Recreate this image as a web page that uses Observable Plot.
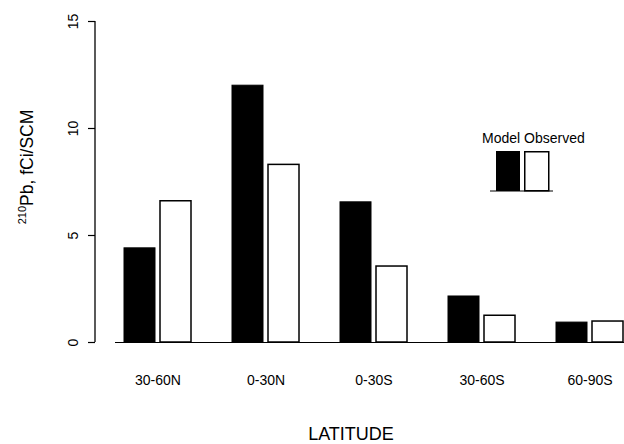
<!DOCTYPE html>
<html>
<head>
<meta charset="utf-8">
<script src="https://cdn.jsdelivr.net/npm/d3@7"></script>
<script src="https://cdn.jsdelivr.net/npm/@observablehq/plot@0.6"></script>
<style>
  html, body { margin: 0; padding: 0; background: #fff; }
  #wrap { position: relative; width: 624px; height: 444px; overflow: hidden; font-family: "Liberation Sans", Arial, Helvetica, sans-serif; }
  #overlay { position: absolute; left: 0; top: 0; pointer-events: none; }
</style>
</head>
<body>
<div id="wrap"></div>
<script>
const latitudes = ["30-60N", "0-30N", "0-30S", "30-60S", "60-90S"];
const modelValues = [4.4, 12.0, 6.55, 2.15, 0.93];
const observedValues = [6.6, 8.3, 3.55, 1.25, 0.98];
const yTicks = [0, 5, 10, 15];
const seriesNames = ["Model", "Observed"];
const xTitle = "LATITUDE";

const modelData = latitudes.map((lat, i) => ({lat, series: seriesNames[0], value: modelValues[i]}));
const observedData = latitudes.map((lat, i) => ({lat, series: seriesNames[1], value: observedValues[i]}));

const chart = Plot.plot({
  width: 624,
  height: 444,
  marginLeft: 95,
  marginRight: 0,
  marginTop: 21,
  marginBottom: 102,
  style: {fontFamily: "'Liberation Sans', Arial, Helvetica, sans-serif", background: "white", color: "black"},
  x: {domain: latitudes, paddingInner: 0.381, paddingOuter: 0.134, align: 0.966},
  y: {domain: [0, 15]},
  marks: [
    Plot.ruleY([0], {insetLeft: 20, stroke: "black", strokeWidth: 1}),
    Plot.barY(modelData, {x: "lat", y: "value", fill: "black", stroke: "black", strokeWidth: 1, insetRight: 36}),
    Plot.barY(observedData, {x: "lat", y: "value", fill: "white", stroke: "black", strokeWidth: 1.5, insetLeft: 36}),
    Plot.axisY(yTicks, {tickSize: 7, tickRotate: -90, tickPadding: 11, fontSize: 14, fill: "black", stroke: "black", strokeWidth: 1.2, label: null}),
    Plot.axisX({tickSize: 0, tickPadding: 33, fontSize: 14, fill: "black", label: null})
  ]
});

const wrap = document.getElementById("wrap");
wrap.appendChild(chart);

const y = chart.scale("y");
const ns = "http://www.w3.org/2000/svg";
const ov = document.createElementNS(ns, "svg");
ov.setAttribute("id", "overlay");
ov.setAttribute("width", 624);
ov.setAttribute("height", 444);
ov.style.fontFamily = "'Liberation Sans', Arial, Helvetica, sans-serif";

// y axis line, from the plot's own y scale
const al = document.createElementNS(ns, "line");
al.setAttribute("x1", 95); al.setAttribute("x2", 95);
al.setAttribute("y1", y.apply(yTicks[0])); al.setAttribute("y2", y.apply(yTicks[yTicks.length - 1]));
al.setAttribute("stroke", "black"); al.setAttribute("stroke-width", 1.3);
ov.appendChild(al);

// y title with superscript
const yt = document.createElementNS(ns, "text");
yt.setAttribute("transform", "translate(33,167) rotate(-90)");
yt.setAttribute("text-anchor", "middle");
yt.setAttribute("font-size", "17.5");
const sup = document.createElementNS(ns, "tspan");
sup.setAttribute("font-size", "11");
sup.setAttribute("dy", "-7");
sup.textContent = "210";
const main = document.createElementNS(ns, "tspan");
main.setAttribute("dy", "7");
main.textContent = "Pb, fCi/SCM";
yt.appendChild(sup); yt.appendChild(main);
ov.appendChild(yt);

// x title
const xt = document.createElementNS(ns, "text");
xt.setAttribute("x", 351);
xt.setAttribute("y", 440);
xt.setAttribute("text-anchor", "middle");
xt.setAttribute("font-size", "18");
xt.textContent = xTitle;
ov.appendChild(xt);

// legend
const lt = document.createElementNS(ns, "text");
lt.setAttribute("x", 482);
lt.setAttribute("y", 143);
lt.setAttribute("font-size", "14");
lt.textContent = seriesNames.join(" ");
ov.appendChild(lt);

function rect(x, yy, w, h, fill, sw) {
  const r = document.createElementNS(ns, "rect");
  r.setAttribute("x", x); r.setAttribute("y", yy);
  r.setAttribute("width", w); r.setAttribute("height", h);
  r.setAttribute("fill", fill); r.setAttribute("stroke", "black");
  r.setAttribute("stroke-width", sw);
  ov.appendChild(r);
}
rect(496.5, 151.5, 23, 39, "black", 1);
rect(524.75, 151.75, 24, 39, "white", 1.5);
const bl = document.createElementNS(ns, "line");
bl.setAttribute("x1", 490); bl.setAttribute("x2", 553);
bl.setAttribute("y1", 191); bl.setAttribute("y2", 191);
bl.setAttribute("stroke", "black"); bl.setAttribute("stroke-width", 1.2);
ov.appendChild(bl);

wrap.appendChild(ov);
</script>
</body>
</html>
